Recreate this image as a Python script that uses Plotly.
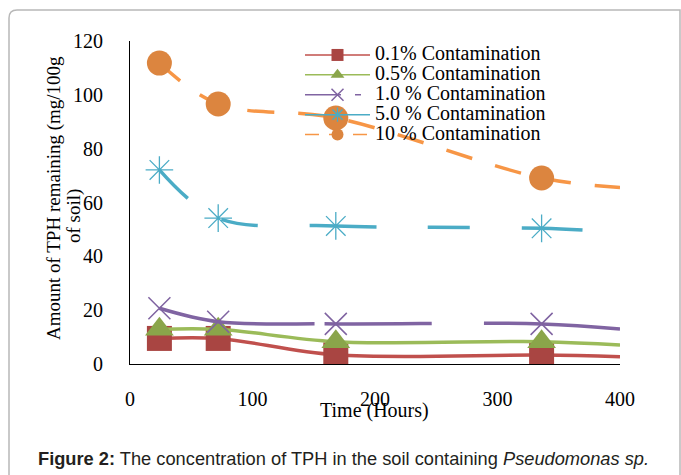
import plotly.graph_objects as go

# Sampling times (hours); the last point only carries the line on to 400 h
hours = [24, 72, 168, 336, 400]

tph_01 = [9.5, 9.5, 3.4, 3.3, 2.7]
tph_05 = [12.9, 12.9, 8.3, 8.3, 7.1]
tph_10 = [20.7, 15.7, 14.9, 14.9, 13.0]
tph_50 = [72.1, 54.2, 51.3, 50.4, 49.0]
tph_100 = [111.8, 96.6, 91.4, 69.1, 65.6]

series_names = ["0.1% Contamination", "0.5% Contamination", "1.0 % Contamination",
                "5.0 % Contamination", "10 % Contamination"]

x_ticks = [0, 100, 200, 300, 400]
y_ticks = [0, 20, 40, 60, 80, 100, 120]

W, H = 681, 475
L, R, T, B = 130, 61, 41, 111
PW, PH = W - L - R, H - T - B


def px(x):
    return (x - L) / PW


def py(y):
    return (H - B - y) / PH


SERIF = "Liberation Serif, Times New Roman, serif"

styles = [
    dict(line="#c0504d", marker="#a94542", symbol="square", size=25, dash="solid",
         key_dash="solid", mline=0),
    dict(line="#9bbb59", marker="#8aa54a", symbol="triangle-up", size=25, dash="solid",
         key_dash="solid", mline=0),
    dict(line="#8064a2", marker="#7f63a1", symbol="x-thin-open", size=22,
         dash="157px,10px,107px,52px,300px", key_dash="36px,14px,6px,40px", mline=1.5),
    dict(line="#4bacc6", marker="#4bacc6", symbol="asterisk-open", size=23,
         dash="40px,40px,37px,52px,67px,51px,42px,52px,61px,300px", key_dash="solid", mline=1.3),
    dict(line="#f79646", marker="#dc853f", symbol="circle", size=25, dash="27px,24px",
         key_dash="14px,10px", mline=0),
]

fig = go.Figure()
for name, vals, st in zip(series_names, [tph_01, tph_05, tph_10, tph_50, tph_100], styles):
    sizes = [st["size"]] * (len(hours) - 1) + [0]
    fig.add_trace(go.Scatter(
        x=hours, y=vals, name=name, legendgroup=name, showlegend=False,
        mode="lines+markers",
        line=dict(color=st["line"], width=3.5, shape="spline", smoothing=1, dash=st["dash"]),
        marker=dict(symbol=st["symbol"], size=sizes, color=st["marker"], opacity=1,
                    line=dict(color=st["marker"], width=st["mline"])),
    ))
    # Legend key with the thinner sample line
    fig.add_trace(go.Scatter(
        x=[None], y=[None], name=f'<span style="font-size:20px">{name}</span>',
        legendgroup=name, mode="lines+markers",
        line=dict(color=st["line"], width=1.5, dash=st["key_dash"]),
        marker=dict(symbol=st["symbol"], size=12, color=st["marker"], opacity=1,
                    line=dict(color=st["marker"], width=st["mline"])),
    ))

fig.update_layout(
    width=W, height=H,
    margin=dict(l=L, r=R, t=T, b=B, pad=0),
    paper_bgcolor="white", plot_bgcolor="white",
    font=dict(family=SERIF, size=20, color="#000000"),
    showlegend=True,
    legend=dict(
        x=px(300), y=py(40), xanchor="left", yanchor="top",
        bgcolor="rgba(0,0,0,0)", borderwidth=0,
        font=dict(family=SERIF, size=13, color="#000000"),
        itemwidth=65, tracegroupgap=0,
    ),
    xaxis=dict(
        range=[0, 400], tickvals=x_ticks, ticks="", showgrid=False, zeroline=False,
        showline=True, linecolor="#000000", linewidth=1,
        tickfont=dict(family=SERIF, size=20), ticklabelstandoff=17,
    ),
    yaxis=dict(
        range=[0, 120], tickvals=y_ticks, ticks="", showgrid=False, zeroline=False,
        showline=True, linecolor="#000000", linewidth=1,
        tickfont=dict(family=SERIF, size=20), ticklabelstandoff=22,
    ),
)

# Axis titles
fig.add_annotation(text="Time (Hours)", xref="paper", yref="paper",
                   x=px(374), y=py(410), showarrow=False,
                   font=dict(family=SERIF, size=20), xanchor="center", yanchor="middle")
fig.add_annotation(text="Amount of TPH remaining (mg/100g", xref="paper", yref="paper",
                   x=px(54), y=py(198), showarrow=False, textangle=-90,
                   font=dict(family=SERIF, size=19), xanchor="center", yanchor="middle")
fig.add_annotation(text="of soil)", xref="paper", yref="paper",
                   x=px(74), y=py(216), showarrow=False, textangle=-90,
                   font=dict(family=SERIF, size=19), xanchor="center", yanchor="middle")

# Figure caption
fig.add_annotation(
    text="<b>Figure 2:</b> The concentration of TPH in the soil containing <i>Pseudomonas sp.</i>",
    xref="paper", yref="paper", x=px(36), y=py(458), showarrow=False,
    xanchor="left", yanchor="middle",
    font=dict(family="Liberation Sans, Arial, sans-serif", size=18.25, color="#231f20"),
)

# Rounded frame around the figure
x0, x1 = px(9), px(680)
y_top, y_bot = py(10), py(476)
rx, ry = 8 / PW, 8 / PH
frame = (f"M {x0},{y_bot} L {x0},{y_top - ry} Q {x0},{y_top} {x0 + rx},{y_top} "
         f"L {x1},{y_top} L {x1},{y_bot}")
fig.add_shape(type="path", path=frame, xref="paper", yref="paper",
              line=dict(color="#b8b8b8", width=1.5), layer="below")

fig.write_html("out.html")
